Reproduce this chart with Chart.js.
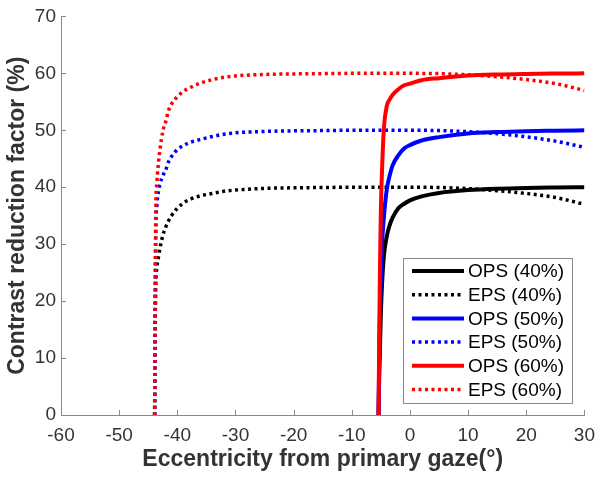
<!DOCTYPE html>
<html>
<head>
<meta charset="utf-8">
<script src="https://cdn.jsdelivr.net/npm/chart.js@4.4.0/dist/chart.umd.min.js"></script>
<style>
  html, body { margin: 0; padding: 0; background: #fff; }
  #wrap { width: 604px; height: 481px; }
</style>
</head>
<body>
<div id="wrap"><canvas id="chart" width="604" height="481"></canvas></div>
<script>
// x values (degrees) for the OPS curves
const opsX = [-5.4, -5.3, -5.2, -5.1, -5.0, -4.8, -4.5, -4.0, -3.5, -3.0, -2.0, -1.0, 0, 2, 5, 10, 15, 20, 25, 30];
const ops40 = [0, 6, 10, 14, 18, 23, 27.8, 31.3, 33.3, 34.6, 36.3, 37.1, 37.7, 38.4, 39.0, 39.5, 39.75, 39.88, 39.95, 40];
const ops50 = [0, 9, 15, 20, 24, 30, 34.5, 39.5, 42, 43.8, 45.6, 46.8, 47.4, 48.2, 48.8, 49.45, 49.7, 49.85, 49.93, 50];
const ops60 = [0, 12, 22, 30, 36, 43, 50, 54.2, 55.4, 56.2, 57.2, 57.9, 58.2, 58.8, 59.15, 59.6, 59.8, 59.9, 59.96, 60];

// x values for the EPS curves
const epsX = [-43.9, -43.8, -43.7, -43.5, -43.2, -43.0, -42.5, -42, -41.5, -41, -40, -39, -38, -36, -34, -32, -30, -25, -20, -15, -10, -5, 0, 5, 10, 15, 20, 25, 30];
const eps40 = [0, 16, 23, 26, 28, 29.2, 31.5, 33, 34.1, 35, 36.3, 37.2, 37.8, 38.5, 38.9, 39.3, 39.5, 39.8, 39.9, 39.95, 40, 40, 40, 39.95, 39.75, 39.4, 38.9, 38.2, 37.0];
const eps50 = [0, 20, 32, 37, 39.5, 40.5, 42, 43, 44.5, 45.4, 46.6, 47.3, 47.8, 48.4, 48.9, 49.3, 49.55, 49.8, 49.9, 49.95, 50, 50, 50, 49.95, 49.75, 49.4, 48.85, 48.1, 47.0];
const eps60 = [0, 22, 36, 41, 44.7, 46.5, 49.8, 51.5, 53.5, 54.6, 55.9, 56.8, 57.4, 58.3, 58.9, 59.3, 59.55, 59.8, 59.9, 59.95, 60, 60, 60, 59.95, 59.75, 59.4, 58.9, 58.2, 57.0];

const xTicks = [-60, -50, -40, -30, -20, -10, 0, 10, 20, 30];
const yTicks = [0, 10, 20, 30, 40, 50, 60, 70];

const labels = ['OPS (40%)', 'EPS (40%)', 'OPS (50%)', 'EPS (50%)', 'OPS (60%)', 'EPS (60%)'];
const colors = ['#000000', '#000000', '#0000ff', '#0000ff', '#ff0000', '#ff0000'];

const pts = (xs, ys) => xs.map((x, i) => ({ x: x, y: ys[i] }));
const seriesData = [pts(opsX, ops40), pts(epsX, eps40), pts(opsX, ops50), pts(epsX, eps50), pts(opsX, ops60), pts(epsX, eps60)];

const axisGray = '#8a8a8a';
const textGray = '#333333';
const font = '"Liberation Sans", Arial, sans-serif';

const datasets = seriesData.map((d, i) => {
  const dotted = i % 2 === 1;
  return {
    label: labels[i],
    data: d,
    borderColor: colors[i],
    backgroundColor: colors[i],
    borderWidth: dotted ? 3.5 : 4,
    borderDash: dotted ? [3, 3.5] : [],
    borderCapStyle: 'butt',
    pointRadius: 0,
    showLine: true,
    fill: false,
    cubicInterpolationMode: 'monotone',
    order: 5 - i
  };
});

// MATLAB-style ticks pointing into the plot
const innerTicks = {
  id: 'innerTicks',
  afterDatasetsDraw(chart) {
    const { ctx, chartArea, scales } = chart;
    ctx.save();
    ctx.strokeStyle = axisGray;
    ctx.lineWidth = 1;
    xTicks.forEach(v => {
      const px = Math.round(scales.x.getPixelForValue(v)) + 0.5;
      ctx.beginPath();
      ctx.moveTo(px, chartArea.bottom);
      ctx.lineTo(px, chartArea.bottom - 5);
      ctx.stroke();
    });
    yTicks.forEach(v => {
      const py = Math.round(scales.y.getPixelForValue(v)) + 0.5;
      ctx.beginPath();
      ctx.moveTo(chartArea.left, py);
      ctx.lineTo(chartArea.left + 5, py);
      ctx.stroke();
    });
    ctx.restore();
  }
};

// legend box inside the plot, lower right
const boxLegend = {
  id: 'boxLegend',
  afterDraw(chart) {
    const { ctx } = chart;
    const x0 = 403, y0 = 258, w = 169, h = 145;
    ctx.save();
    ctx.fillStyle = '#ffffff';
    ctx.fillRect(x0, y0, w, h);
    ctx.strokeStyle = axisGray;
    ctx.lineWidth = 1;
    ctx.strokeRect(x0 + 0.5, y0 + 0.5, w, h);
    ctx.font = '19px ' + font;
    ctx.textBaseline = 'middle';
    chart.data.datasets.forEach((ds, i) => {
      const y = y0 + 13 + i * 23.7;
      ctx.strokeStyle = ds.borderColor;
      ctx.lineWidth = ds.borderWidth;
      ctx.setLineDash(ds.borderDash);
      ctx.beginPath();
      ctx.moveTo(x0 + 9, y);
      ctx.lineTo(x0 + 61, y);
      ctx.stroke();
      ctx.setLineDash([]);
      ctx.fillStyle = '#000000';
      ctx.fillText(ds.label, x0 + 65, y + 1);
    });
    ctx.restore();
  }
};

new Chart(document.getElementById('chart'), {
  type: 'scatter',
  data: { datasets: datasets },
  options: {
    responsive: false,
    animation: false,
    layout: { padding: { top: 16, right: 19, left: 0, bottom: 0 } },
    plugins: {
      legend: { display: false },
      tooltip: { enabled: false }
    },
    scales: {
      x: {
        type: 'linear',
        min: -60,
        max: 30,
        afterBuildTicks: s => { s.ticks = xTicks.map(v => ({ value: v })); },
        afterFit: s => { s.height = 66; },
        grid: { display: true, drawOnChartArea: false, drawTicks: false },
        border: { display: true, color: axisGray, width: 1 },
        ticks: { color: textGray, padding: 9, maxRotation: 0, font: { size: 19, family: font } },
        title: {
          display: true,
          text: 'Eccentricity from primary gaze(°)',
          color: textGray,
          font: { size: 23, weight: 'bold', family: font },
          padding: { top: 0, bottom: 8 }
        }
      },
      y: {
        type: 'linear',
        min: 0,
        max: 70,
        afterBuildTicks: s => { s.ticks = yTicks.map(v => ({ value: v })); },
        afterFit: s => { s.width = 61; },
        grid: { display: true, drawOnChartArea: false, drawTicks: false },
        border: { display: true, color: axisGray, width: 1 },
        ticks: { color: textGray, padding: 5, font: { size: 19, family: font } },
        title: {
          display: true,
          text: 'Contrast reduction factor (%)',
          color: textGray,
          font: { size: 23, weight: 'bold', family: font },
          padding: { top: 4, bottom: 0 }
        }
      }
    }
  },
  plugins: [innerTicks, boxLegend]
});
</script>
</body>
</html>
